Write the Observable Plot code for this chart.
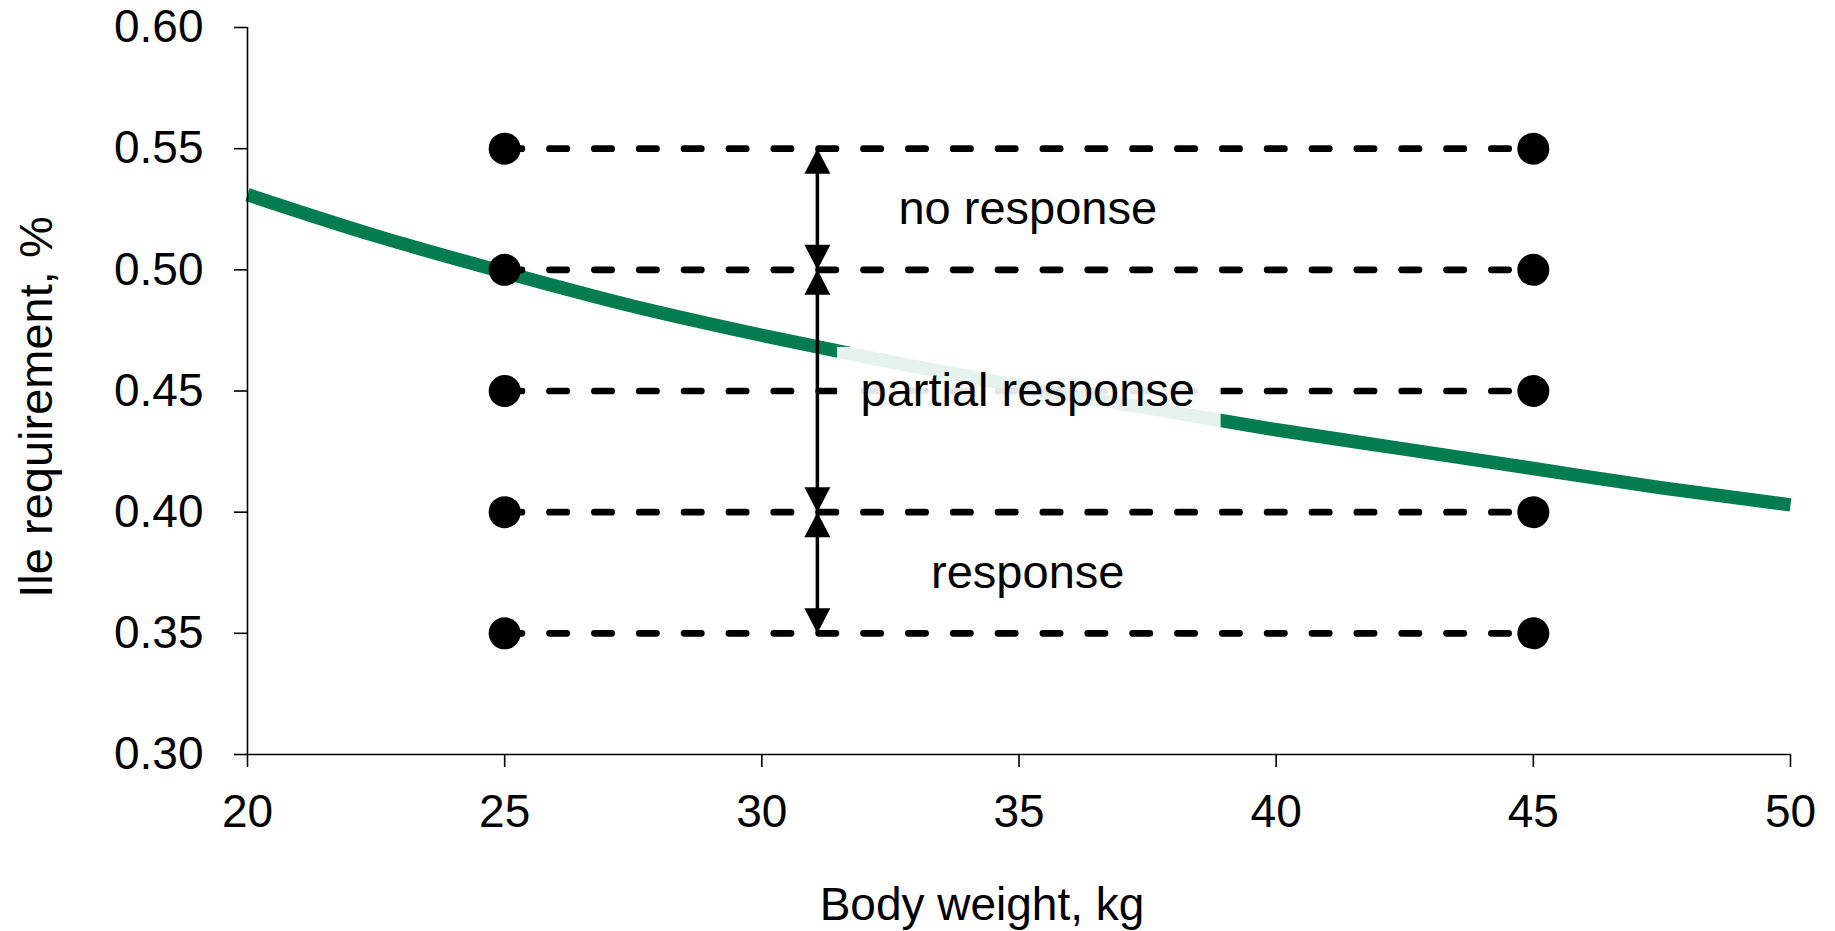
<!DOCTYPE html>
<html>
<head>
<meta charset="utf-8">
<script src="https://cdn.jsdelivr.net/npm/d3@7"></script>
<script src="https://cdn.jsdelivr.net/npm/@observablehq/plot@0.6"></script>
<style>
  html, body { margin: 0; padding: 0; background: #fff; }
</style>
</head>
<body>
<div id="chart"></div>
<script>
// ---- data ----
const xTicks = [20, 25, 30, 35, 40, 45, 50];
const yTicks = [0.30, 0.35, 0.40, 0.45, 0.50, 0.55, 0.60];

// requirement curve (body weight, kg -> Ile requirement, %)
const curveX = [20, 22.5, 25, 27.5, 30, 32.5, 35, 37.5, 40, 42.5, 45, 47.5, 50];
const curveY = [0.531, 0.514, 0.499, 0.485, 0.473, 0.462, 0.452, 0.443, 0.434, 0.426, 0.418, 0.410, 0.403];

// tested dietary levels and the two body weights where they were tested
const levels = [0.35, 0.40, 0.45, 0.50, 0.55];
const dotX = [25, 45];

// double arrows between levels
const arrowX = 31.08;
const arrowFrom = [0.55, 0.50, 0.40];
const arrowTo = [0.50, 0.40, 0.35];

// annotations
const labelTexts = ["no response", "partial response", "response"];
const labelY = [0.525, 0.45, 0.375];
const labelX = 35.17;
// semi-transparent text box behind "partial response"
const boxX = [31.47, 38.93];
const boxY = [0.433, 0.468];

const xTitle = "Body weight, kg";
const yTitle = "Ile requirement, %";

// ---- build tables ----
const curve = curveX.map((x, i) => ({x, y: curveY[i]}));
const dashes = levels.map(y => ({x1: dotX[0], x2: dotX[1], y}));
const dots = levels.flatMap(y => dotX.map(x => ({x, y})));
const segs = arrowFrom.map((a, i) => ({x: arrowX, y1: a, y2: arrowTo[i]}));
const tipsUp = segs.map(s => ({x: s.x, y: s.y1}));
const tipsDown = segs.map(s => ({x: s.x, y: s.y2}));
const labels = labelTexts.map((t, i) => ({x: labelX, y: labelY[i], t}));
const box = [{x1: boxX[0], x2: boxX[1], y1: boxY[0], y2: boxY[1]}];

// filled arrowhead shapes with the tip at the anchor point
const headUp = {draw(ctx) { ctx.moveTo(0, 0); ctx.lineTo(13, 25); ctx.lineTo(-13, 25); ctx.closePath(); }};
const headDown = {draw(ctx) { ctx.moveTo(0, 0); ctx.lineTo(13, -25); ctx.lineTo(-13, -25); ctx.closePath(); }};

const FONT = "'Liberation Sans', Arial, Helvetica, sans-serif";

const chart = Plot.plot({
  width: 1835,
  height: 931,
  marginLeft: 247,
  marginRight: 45,
  marginTop: 27,
  marginBottom: 177,
  style: {fontFamily: FONT, fontSize: "46px", background: "#fff", color: "#000"},
  x: {domain: [xTicks[0], xTicks[xTicks.length - 1]]},
  y: {domain: [yTicks[0], yTicks[yTicks.length - 1]]},
  marks: [
    Plot.line(curve, {x: "x", y: "y", stroke: "#037c50", strokeWidth: 13.5, curve: "monotone-x",
      strokeLinecap: "butt"}),
    Plot.link(dashes, {x1: "x1", x2: "x2", y1: "y", y2: "y", stroke: "#000", strokeWidth: 6.7,
      strokeDasharray: "17.3,27.55", strokeLinecap: "round"}),
    Plot.rect(box, {x1: "x1", x2: "x2", y1: "y1", y2: "y2", fill: "#fff", fillOpacity: 0.9}),
    Plot.dot(dots, {x: "x", y: "y", r: 16, fill: "#000", stroke: "none"}),
    Plot.ruleX(segs, {x: "x", y1: "y1", y2: "y2", stroke: "#000", strokeWidth: 3.5}),
    Plot.dot(tipsUp, {x: "x", y: "y", r: 5, symbol: headUp, fill: "#000", stroke: "none"}),
    Plot.dot(tipsDown, {x: "x", y: "y", r: 5, symbol: headDown, fill: "#000", stroke: "none"}),
    Plot.text(labels, {x: "x", y: "y", text: "t", fontSize: 47, fill: "#000", textAnchor: "middle"}),
    Plot.ruleX([xTicks[0]], {stroke: "#000", strokeWidth: 1.6}),
    Plot.ruleY([yTicks[0]], {stroke: "#000", strokeWidth: 1.6}),
    Plot.axisX({ticks: xTicks, tickSize: 13, tickPadding: 27, fontSize: 46, label: null,
      strokeWidth: 1.6, tickFormat: d => String(d)}),
    Plot.axisY({ticks: yTicks, tickSize: 13, tickPadding: 31, fontSize: 46, label: null,
      strokeWidth: 1.6, tickFormat: d3.format(".2f")}),
    Plot.text([xTitle], {frameAnchor: "bottom", text: d => d, dx: -37, dy: 151, fontSize: 46,
      fill: "#000", textAnchor: "middle", lineAnchor: "middle"}),
    Plot.text([yTitle], {frameAnchor: "left", text: d => d, rotate: -90, dx: -211, dy: 16, fontSize: 47,
      fill: "#000", textAnchor: "middle", lineAnchor: "middle"})
  ]
});

document.getElementById("chart").appendChild(chart);
</script>
</body>
</html>
